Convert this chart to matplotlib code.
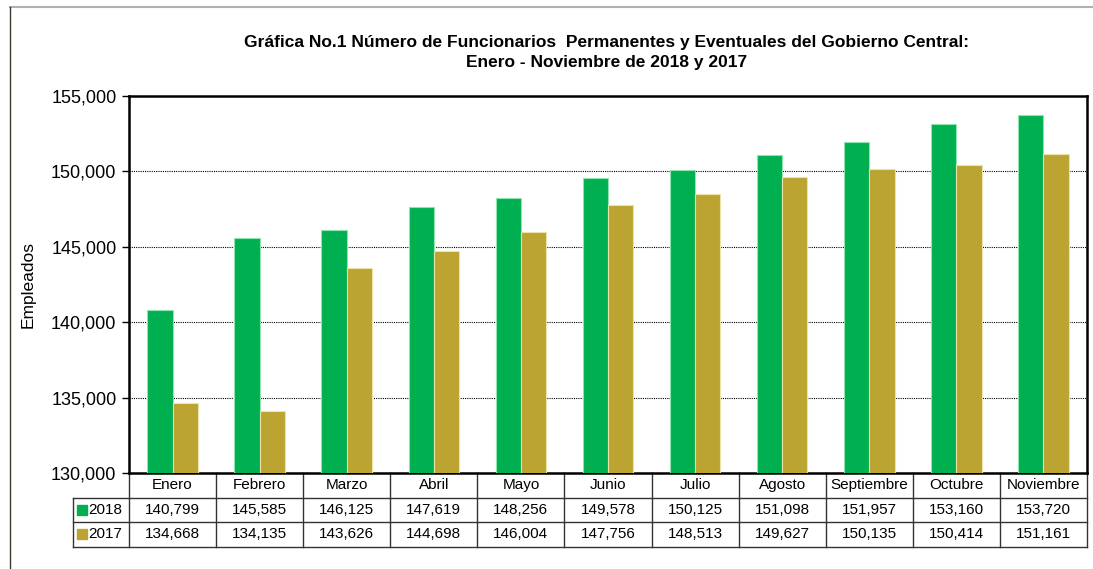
import matplotlib
matplotlib.use("Agg")
from matplotlib import pyplot as plt
from matplotlib import transforms
import numpy as np

plt.rcParams['font.family'] = ['Liberation Sans', 'DejaVu Sans']

# datos
meses = ['Enero', 'Febrero', 'Marzo', 'Abril', 'Mayo', 'Junio', 'Julio',
         'Agosto', 'Septiembre', 'Octubre', 'Noviembre']
v2018 = [140799, 145585, 146125, 147619, 148256, 149578, 150125,
         151098, 151957, 153160, 153720]
v2017 = [134668, 134135, 143626, 144698, 146004, 147756, 148513,
         149627, 150135, 150414, 151161]
series = ['2018', '2017']
colores = ['#00B050', '#BBA431']
bordes = ['#8FE5B0', '#ECE3A8']

fig = plt.figure(figsize=(10.93, 5.69), dpi=100)
ax = fig.add_axes([129 / 1093, 1 - 473 / 569, (1087 - 129) / 1093, (473 - 96) / 569])

x = np.arange(len(meses))
w = 0.29
ax.bar(x - w / 2, v2018, w, color=colores[0], edgecolor=bordes[0], linewidth=0.8, zorder=3)
ax.bar(x + w / 2, v2017, w, color=colores[1], edgecolor=bordes[1], linewidth=0.8, zorder=3)

ax.set_ylim(130000, 155000)
ax.set_xlim(-0.5, len(meses) - 0.5)
ax.set_yticks(np.arange(130000, 155001, 5000))
ax.yaxis.set_major_formatter(matplotlib.ticker.StrMethodFormatter('{x:,.0f}'))
ax.tick_params(axis='y', labelsize=13, length=5, width=1, direction='out', pad=4)
ax.set_xticks([])
ax.grid(axis='y', color='black', linestyle=(0, (1, 1)), linewidth=0.8, zorder=0)
for s in ax.spines.values():
    s.set_linewidth(1.8)
ax.set_ylabel('Empleados', fontsize=12.5, labelpad=11)

fig.text(0.555, 1 - 42 / 569, 'Gráfica No.1 Número de Funcionarios  Permanentes y Eventuales del Gobierno Central:',
         ha='center', va='center', fontsize=12.5, fontweight='bold')
fig.text(0.555, 1 - 62 / 569, 'Enero - Noviembre de 2018 y 2017',
         ha='center', va='center', fontsize=12.5, fontweight='bold')

# tabla de datos
tr = transforms.blended_transform_factory(ax.transData, ax.transAxes)
rh = 24.5 / 377
lc = '#333333'
xl = -0.5 - (129 - 73) / ((1087 - 129) / 11)
# lineas horizontales
for k in (1, 2, 3):
    ax.plot([xl, len(meses) - 0.5], [-rh * k, -rh * k],
            color=lc, lw=1, transform=tr, clip_on=False)
# lineas verticales
for i in range(len(meses) + 1):
    ax.plot([i - 0.5, i - 0.5], [0, -3 * rh], color=lc, lw=1, transform=tr, clip_on=False)
ax.plot([xl, xl], [-rh, -3 * rh], color=lc, lw=1, transform=tr, clip_on=False)

for i, m in enumerate(meses):
    ax.text(i, -rh * 0.5, m, ha='center', va='center', fontsize=11, transform=tr)
    ax.text(i, -rh * 1.5, f'{v2018[i]:,}', ha='center', va='center', fontsize=11, transform=tr)
    ax.text(i, -rh * 2.5, f'{v2017[i]:,}', ha='center', va='center', fontsize=11, transform=tr)
for k, (s, c) in enumerate(zip(series, colores)):
    yy = -rh * (1.5 + k)
    ax.plot([xl + 0.1], [yy], marker='s', markersize=7, color=c, transform=tr, clip_on=False)
    ax.text(xl + 0.17, yy, s, ha='left', va='center', fontsize=11, transform=tr)

# marco del grafico
fig.add_artist(plt.Line2D([10 / 1093, 1], [1 - 7 / 569, 1 - 7 / 569], color='#B0B0B0', lw=1.5))
fig.add_artist(plt.Line2D([10 / 1093, 10 / 1093], [0, 1 - 7 / 569], color='#3A3A2A', lw=1))

fig.savefig('out.png', dpi=100)
